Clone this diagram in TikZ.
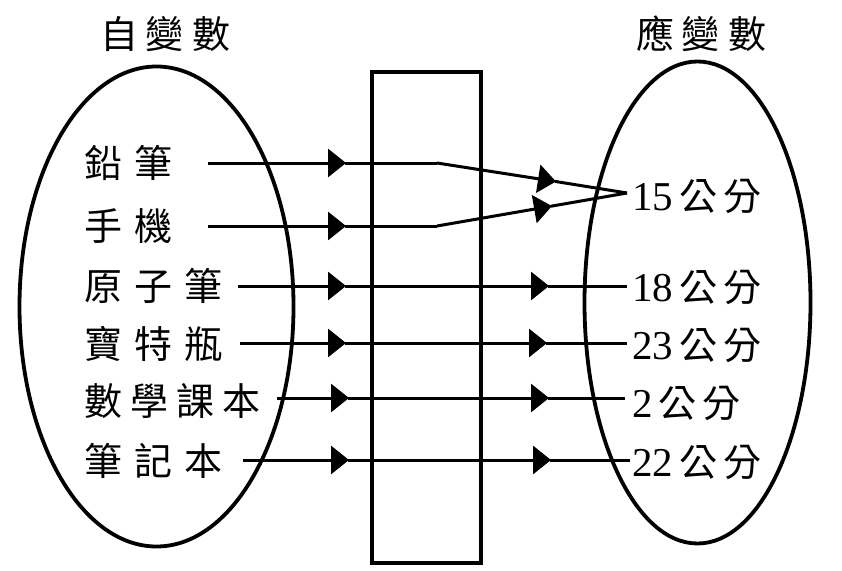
\documentclass[tikz,border=0pt]{standalone}
\usepackage{fontspec}
\setmainfont{Liberation Serif}
\newfontfamily\cjk{Noto Sans CJK TC}
\usetikzlibrary{arrows.meta}
\newcommand\cs{\hspace{12pt}}
\newcommand\ts{\hspace{8pt}}
\newcommand\rs{\hspace{6pt}}
\newcommand\cm{\cjk\fontsize{38}{40}\selectfont}
\newcommand\num[1]{{\fontsize{41}{44}\selectfont #1}}
\begin{document}
\begin{tikzpicture}[x=1pt,y=-1pt,
  shape outline/.style={line width=3.8pt},
  flow/.style={line width=3pt},
  arr/.style={flow,-{Triangle[length=18pt,width=28pt]},shorten >=-1pt},
  lbl/.style={anchor=west,inner sep=0pt,font=\cm},
  rlbl/.style={anchor=west,inner sep=0pt},
  ttl/.style={inner sep=0pt,font=\cm}]
\useasboundingbox (0,0) rectangle (842,570);
\fill[white] (0,0) rectangle (842,570);
% ellipses and box
\draw[shape outline] (156.5,306.5) ellipse [x radius=137pt, y radius=240pt];
\draw[shape outline] (697.5,302.5) ellipse [x radius=113pt, y radius=241pt];
\draw[line width=4.5pt] (372,72) rectangle (481,563);
% titles
\node[ttl] (tl) at (165,34) {自\ts 變\ts 數};
\node[ttl] (tr) at (701,34) {應\ts 變\ts 數};
% left labels
\node[lbl] (l1) at (84,163) {鉛\cs 筆};
\node[lbl] (l2) at (84,226) {手\cs 機};
\node[lbl] (l3) at (84,286) {原\cs 子\cs 筆};
\node[lbl] (l4) at (84,344) {寶\cs 特\cs 瓶};
\node[lbl] (l5) at (84,401) {數\hspace{8pt}學\hspace{8pt}課\hspace{8pt}本};
\node[lbl] (l6) at (84,461) {筆\cs 記\cs 本};
% right labels
\node[rlbl] (r1) at (632,196) {\num{15}{\cm\rs 公\rs 分}};
\node[rlbl] (r3) at (632,287) {\num{18}{\cm\rs 公\rs 分}};
\node[rlbl] (r4) at (632,345) {\num{23}{\cm\rs 公\rs 分}};
\node[rlbl] (r5) at (632,403) {\num{2}{\cm\rs 公\rs 分}};
\node[rlbl] (r6) at (632,462) {\num{22}{\cm\rs 公\rs 分}};
% coordinates
\coordinate (s1) at (208,163);  \coordinate (a1) at (345,163);
\coordinate (k1) at (437,163);  \coordinate (b1) at (555,181.4);
\coordinate (s2) at (208,226);  \coordinate (a2) at (345,226);
\coordinate (k2) at (437,226);  \coordinate (b2) at (551,206.2);
\coordinate (m) at (627,193);
\coordinate (s3) at (238,286); \coordinate (a3) at (345,286); \coordinate (b3) at (548,286); \coordinate (e3) at (627,286);
\coordinate (s4) at (240,343); \coordinate (a4) at (345,343); \coordinate (b4) at (546,343); \coordinate (e4) at (627,343);
\coordinate (s5) at (277,398); \coordinate (a5) at (348,398); \coordinate (b5) at (548,398); \coordinate (e5) at (625,398);
\coordinate (s6) at (243,460); \coordinate (a6) at (348,460); \coordinate (b6) at (550,460); \coordinate (e6) at (630,460);
% rows 1 and 2
\draw[arr] (s1) -- (a1);
\draw[flow] (a1) -- (k1);
\draw[arr] (k1) -- (b1);
\draw[flow] (b1) -- (m);
\draw[arr] (s2) -- (a2);
\draw[flow] (a2) -- (k2);
\draw[arr] (k2) -- (b2);
\draw[flow] (b2) -- (m);
% rows 3-6
\foreach \i in {3,4,5,6}{
  \draw[arr] (s\i) -- (a\i);
  \draw[arr] (a\i) -- (b\i);
  \draw[flow] (b\i) -- (e\i);
}
\end{tikzpicture}
\end{document}
